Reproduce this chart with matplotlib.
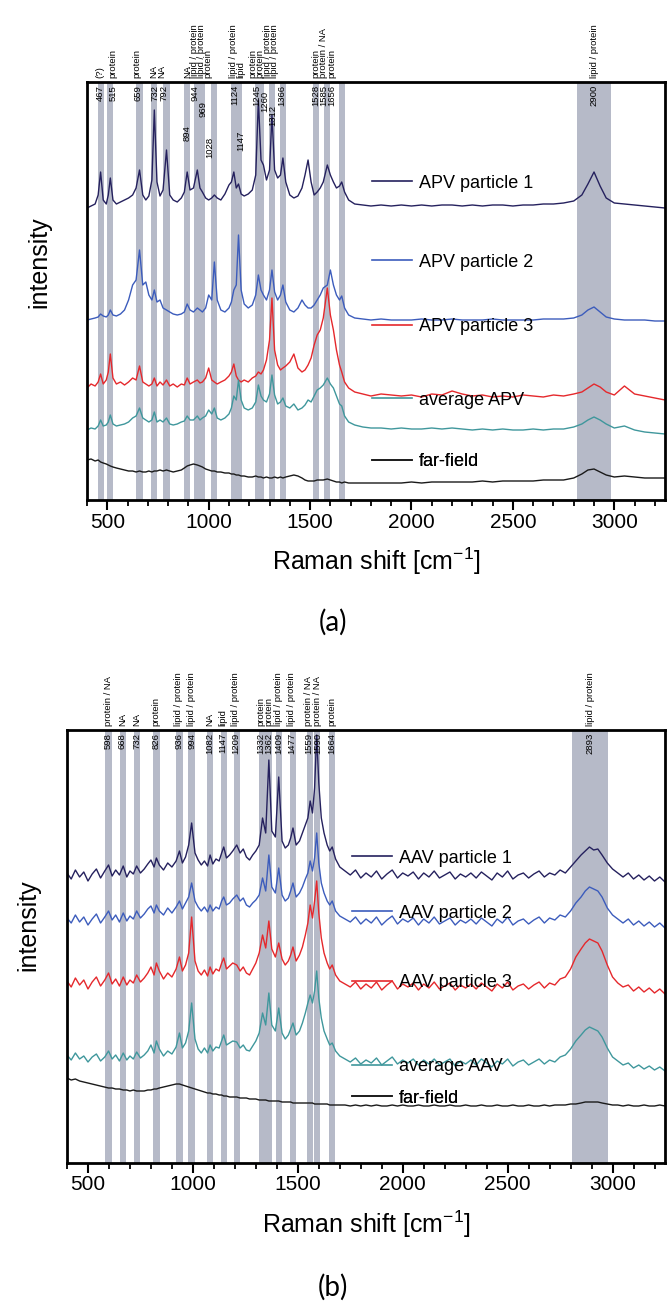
import numpy as np
import matplotlib.pyplot as plt
from matplotlib.ticker import MultipleLocator
from matplotlib.lines import Line2D

plt.rcParams['font.family'] = ['Liberation Sans', 'DejaVu Sans']
plt.rcParams['mathtext.fontset'] = 'custom'
plt.rcParams['mathtext.rm'] = 'Liberation Sans'

# ---------------- panel (a): APV ----------------
shift_a = [
    400, 420, 440, 455, 467, 480, 495, 505, 515, 528,
    545, 565, 585, 605, 625, 642, 659, 675, 690, 705,
    720, 732, 745, 760, 775, 792, 808, 825, 845, 865,
    880, 894, 908, 925, 944, 957, 969, 985, 1000, 1015,
    1028, 1042, 1060, 1080, 1100, 1112, 1124, 1136, 1147, 1160,
    1175, 1195, 1215, 1232, 1245, 1258, 1270, 1285, 1300, 1312,
    1325, 1340, 1354, 1366, 1380, 1400, 1420, 1440, 1460, 1475,
    1490, 1505, 1520, 1535, 1550, 1565, 1585, 1600, 1615, 1630,
    1645, 1656, 1670, 1690, 1720, 1760, 1800, 1850, 1900, 1950,
    2000, 2050, 2100, 2150, 2200, 2250, 2300, 2350, 2400, 2450,
    2500, 2550, 2600, 2650, 2700, 2750, 2800, 2840, 2870, 2900,
    2930, 2960, 3000, 3050, 3100, 3150, 3200, 3250]

apv1 = [
    292, 294, 296, 305, 328, 300, 296, 305, 322, 300,
    296, 298, 300, 302, 305, 312, 330, 305, 300, 304,
    320, 390, 318, 304, 310, 350, 305, 300, 298, 302,
    308, 328, 310, 312, 330, 312, 308, 302, 300, 302,
    305, 302, 300, 306, 315, 318, 328, 312, 316, 306,
    304, 306, 310, 325, 400, 340, 335, 320, 330, 385,
    330, 322, 325, 342, 318, 305, 302, 304, 312, 325,
    340, 318, 305, 308, 312, 318, 335, 325, 318, 312,
    314, 318, 308, 300, 296, 295, 294, 295, 294, 295,
    294, 295, 294, 295, 295, 294, 295, 294, 295, 295,
    294, 295, 295, 296, 296, 297, 299, 305, 316, 328,
    314, 302, 297, 296, 295, 294, 293, 292]

apv2 = [
    180, 181, 182, 183, 186, 184, 183, 185, 190, 185,
    184, 186, 190, 200, 215, 220, 250, 215, 218, 205,
    200, 210, 198, 200, 192, 190, 188, 186, 185, 186,
    188, 196, 190, 188, 192, 190, 188, 192, 205, 200,
    238, 200, 190, 188, 192, 198, 210, 215, 265, 210,
    196, 192, 195, 205, 225, 210, 205, 200, 210, 230,
    208, 200, 205, 215, 198, 190, 188, 192, 200, 195,
    192, 192, 195, 200, 205, 212, 215, 230, 215, 205,
    200, 204, 192, 185, 182, 181, 180, 181, 180, 180,
    180, 181, 180, 180, 181, 180, 180, 180, 181, 180,
    180, 180, 180, 181, 181, 181, 182, 185, 190, 193,
    188, 183, 181, 180, 180, 180, 179, 179]

apv3 = [
    112, 116, 114, 118, 126, 116, 120, 128, 146, 122,
    116, 118, 115, 118, 122, 120, 134, 118, 116, 114,
    116, 122, 114, 118, 115, 120, 114, 116, 113, 116,
    115, 122, 116, 118, 120, 117, 118, 122, 132, 120,
    118, 116, 118, 120, 124, 128, 136, 124, 120, 118,
    120, 118, 122, 124, 128, 126, 130, 140, 160, 202,
    150, 135, 130, 132, 134, 138, 146, 132, 128, 130,
    135, 142, 155, 165, 170, 182, 212, 185, 170, 150,
    135, 128, 118, 112, 108, 106, 104, 106, 105, 104,
    105, 103, 106, 105, 109, 106, 104, 105, 103, 104,
    103, 105, 104, 103, 105, 104, 106, 108, 112, 116,
    113, 108, 105, 114, 106, 104, 102, 100]

apv_avg = [
    70, 72, 71, 74, 80, 74, 75, 78, 85, 76,
    74, 75, 76, 78, 82, 84, 92, 82, 80, 78,
    80, 88, 78, 80, 78, 82, 76, 75, 76, 78,
    79, 84, 80, 80, 84, 80, 82, 84, 90, 86,
    92, 82, 80, 82, 86, 92, 104, 100, 120, 100,
    92, 90, 92, 98, 115, 104, 100, 98, 106, 125,
    105, 96, 98, 102, 94, 92, 96, 90, 92, 95,
    100, 98, 104, 110, 112, 115, 122, 116, 112, 104,
    96, 94, 84, 78, 75, 73, 72, 72, 71, 72,
    71, 71, 72, 71, 72, 71, 70, 71, 70, 71,
    70, 70, 71, 70, 71, 71, 73, 76, 80, 83,
    80, 76, 72, 74, 70, 68, 67, 66]

apv_far = [
    40, 41, 39, 40, 38, 37, 36, 35, 34, 33,
    32, 31, 30, 29, 29, 28, 29, 28, 28, 29,
    28, 29, 29, 30, 29, 30, 29, 28, 29, 30,
    32, 34, 35, 36, 35, 34, 33, 31, 30, 29,
    29, 28, 28, 27, 27, 26, 26, 25, 25, 24,
    24, 23, 23, 24, 23, 23, 22, 23, 22, 22,
    23, 22, 23, 22, 23, 24, 25, 24, 22, 20,
    19, 19, 19, 20, 20, 20, 21, 20, 19, 18,
    18, 17, 18, 17, 17, 17, 17, 17, 17, 17,
    18, 17, 18, 18, 18, 18, 18, 19, 18, 19,
    19, 19, 19, 20, 20, 20, 22, 26, 30, 31,
    28, 25, 23, 24, 23, 22, 22, 22]

names_a = ['APV particle 1', 'APV particle 2', 'APV particle 3', 'average APV', 'far-field']

bands_a = [467, 515, 659, 732, 792, 894, 944, 969, 1028, 1124, 1147,
           1245, 1260, 1312, 1366, 1528, 1585, 1656, 2900]
assign_a = ['(?)', 'protein', 'protein', 'NA', 'NA', 'NA', 'lipid / protein',
            'lipid / protein', 'protein', 'lipid / protein', 'lipid', 'protein',
            'protein', 'lipid / protein', 'lipid / protein', 'protein',
            'protein / NA', 'protein', 'lipid / protein']

# ---------------- panel (b): AAV ----------------
shift_b = [
    400, 420, 440, 460, 480, 500, 520, 540, 560, 580,
    598, 615, 632, 650, 668, 685, 700, 716, 732, 750,
    768, 785, 800, 815, 826, 840, 860, 880, 900, 920,
    936, 950, 965, 980, 994, 1010, 1025, 1040, 1055, 1070,
    1082, 1095, 1110, 1125, 1137, 1147, 1160, 1175, 1190, 1209,
    1225, 1240, 1255, 1270, 1285, 1300, 1316, 1332, 1347, 1362,
    1376, 1393, 1409, 1425, 1440, 1455, 1466, 1477, 1492, 1508,
    1522, 1536, 1548, 1559, 1570, 1580, 1590, 1600, 1612, 1625,
    1640, 1652, 1664, 1680, 1700, 1725, 1750, 1775, 1800, 1825,
    1850, 1875, 1900, 1925, 1950, 1975, 2000, 2025, 2050, 2075,
    2100, 2125, 2150, 2175, 2200, 2225, 2250, 2275, 2300, 2325,
    2350, 2375, 2400, 2425, 2450, 2475, 2500, 2525, 2550, 2575,
    2600, 2625, 2650, 2675, 2700, 2725, 2750, 2775, 2800, 2825,
    2850, 2870, 2890, 2910, 2930, 2950, 2975, 3000, 3025, 3050,
    3075, 3100, 3125, 3150, 3175, 3200, 3225, 3250]

aav1 = [
    290, 284, 293, 286, 291, 282, 289, 294, 285, 292,
    298, 287, 293, 288, 297, 286, 292, 289, 297, 290,
    294, 299, 303, 296, 305, 298, 293, 300, 296, 302,
    312, 300, 306, 318, 340, 310, 303, 298, 302, 297,
    308, 299, 304, 302, 310, 316, 305, 308, 312, 318,
    310, 314, 306, 303, 308, 312, 318, 345, 330, 403,
    332, 326, 386, 322, 315, 318, 325, 335, 318, 322,
    330, 338, 345, 362, 350, 375, 428, 380, 345, 330,
    318, 312, 316, 304, 296, 292, 288, 293, 285, 290,
    286, 292, 284, 289, 293, 285, 290, 287, 291, 284,
    290, 286, 292, 285, 288, 291, 284, 289, 286, 290,
    285, 291, 287, 283, 290, 286, 292, 284, 288, 290,
    285, 289, 292, 286, 290, 288, 293, 290, 296, 302,
    308, 312, 316, 313, 314, 308, 300, 294, 290, 286,
    290, 284, 288, 283, 287, 282, 286, 281]

aav2 = [
    245, 240, 248, 241, 246, 238, 244, 249, 240, 246,
    252, 243, 248, 241, 250, 242, 247, 244, 252, 245,
    249, 254, 257, 250, 258, 252, 248, 255, 250, 256,
    262, 254, 260, 266, 280, 262, 256, 252, 256, 251,
    258, 252, 256, 254, 262, 266, 258, 260, 264, 268,
    262, 265, 258, 256, 260, 263, 268, 285, 272, 308,
    276, 270, 295, 268, 262, 265, 272, 280, 266, 270,
    276, 284, 290, 302, 292, 305, 330, 300, 280, 270,
    262, 258, 262, 252, 247, 244, 241, 246, 239, 244,
    240, 246, 238, 243, 247, 239, 244, 241, 245, 238,
    244, 240, 246, 239, 242, 245, 238, 243, 240, 244,
    239, 245, 241, 237, 244, 240, 246, 238, 242, 244,
    239, 243, 246, 240, 245, 243, 248, 246, 252, 260,
    266, 272, 276, 274, 272, 266, 255, 248, 244, 240,
    244, 238, 242, 237, 241, 236, 240, 235]

aav3 = [
    182, 176, 185, 178, 183, 174, 181, 186, 177, 183,
    190, 179, 184, 177, 186, 178, 183, 180, 188, 181,
    185, 190, 196, 188, 200, 192, 184, 190, 186, 194,
    206, 192, 198, 210, 246, 202, 192, 188, 193, 187,
    196, 189, 194, 192, 200, 205, 194, 197, 200, 198,
    192, 196, 190, 188, 194, 200, 210, 228, 215, 242,
    214, 206, 220, 204, 198, 202, 208, 216, 202, 208,
    216, 228, 240, 258, 245, 262, 282, 250, 225, 210,
    200, 194, 198, 188, 182, 179, 176, 181, 174, 179,
    175, 181, 173, 178, 182, 174, 179, 176, 180, 173,
    179, 175, 181, 174, 177, 180, 173, 178, 175, 179,
    174, 180, 176, 172, 179, 175, 181, 173, 177, 179,
    174, 178, 181, 175, 180, 178, 184, 186, 194, 206,
    214, 220, 224, 222, 220, 212, 198, 186, 180, 176,
    178, 172, 176, 171, 175, 170, 174, 169]

aav_avg = [
    108, 103, 110, 104, 107, 101, 106, 109, 102, 106,
    112, 104, 108, 102, 110, 103, 107, 104, 111, 105,
    108, 112, 118, 110, 122, 114, 107, 112, 109, 116,
    130, 115, 120, 132, 160, 124, 114, 110, 115, 110,
    118, 112, 116, 115, 122, 128, 118, 120, 122, 121,
    115, 118, 113, 112, 117, 122, 130, 150, 138, 170,
    138, 132, 155, 130, 124, 128, 134, 140, 128, 132,
    140, 150, 160, 168, 160, 172, 192, 165, 145, 132,
    124, 118, 120, 112, 107, 104, 101, 105, 99, 103,
    100, 105, 98, 102, 106, 99, 103, 100, 104, 98,
    103, 99, 104, 98, 101, 104, 97, 102, 99, 103,
    98, 104, 100, 96, 102, 99, 104, 97, 101, 103,
    98, 101, 104, 99, 103, 101, 106, 108, 114, 122,
    128, 133, 136, 134, 132, 126, 115, 106, 102, 98,
    100, 95, 98, 94, 97, 93, 96, 92]

aav_far = [
    85, 83, 84, 82, 81, 80, 79, 78, 77, 76,
    75, 75, 74, 74, 73, 73, 72, 73, 72, 72,
    72, 73, 73, 74, 74, 75, 76, 77, 78, 79,
    79, 78, 77, 76, 75, 74, 73, 72, 71, 70,
    70, 69, 69, 68, 68, 67, 67, 66, 66, 66,
    65, 65, 65, 64, 64, 64, 63, 63, 63, 62,
    62, 62, 62, 61, 61, 61, 61, 60, 60, 60,
    60, 60, 60, 60, 60, 59, 59, 59, 59, 59,
    59, 58, 58, 58, 58, 58, 57, 58, 57, 58,
    57, 58, 57, 57, 58, 57, 58, 57, 57, 58,
    57, 57, 58, 57, 57, 58, 57, 57, 58, 57,
    57, 58, 57, 57, 58, 57, 57, 58, 57, 57,
    58, 57, 57, 58, 57, 58, 58, 58, 59, 59,
    60, 61, 61, 61, 61, 60, 59, 58, 58, 57,
    58, 57, 57, 58, 57, 57, 58, 57]

names_b = ['AAV particle 1', 'AAV particle 2', 'AAV particle 3', 'average AAV', 'far-field']

bands_b = [598, 668, 732, 826, 936, 994, 1082, 1147, 1209, 1332, 1362,
           1409, 1477, 1559, 1590, 1664, 2893]
assign_b = ['protein / NA', 'NA', 'NA', 'protein', 'lipid / protein',
            'lipid / protein', 'NA', 'lipid', 'lipid / protein', 'protein',
            'protein', 'lipid / protein', 'lipid / protein', 'protein / NA',
            'protein / NA', 'protein', 'lipid / protein']

colors = ['#25215e', '#3c5cbc', '#e5282c', '#3f979c', '#1a1a1a']
band_color = '#b6bac8'

W, H = 667, 1309
fig = plt.figure(figsize=(W / 100, H / 100), dpi=100)


def draw_panel(box, x, series, names, bands, assign, ymax, legend_xy,
               num_x, name_x, num_drop, ylab_xy):
    l, t, r, b = box
    ax = fig.add_axes([l / W, 1 - b / H, (r - l) / W, (b - t) / H])
    hpx = b - t
    for c in bands:
        w = 170 if c > 2800 else 30
        ax.axvspan(c - w / 2, c + w / 2, color=band_color, lw=0, zorder=0)
    for ys, col in zip(series, colors):
        ax.plot(x, ys, color=col, lw=1.0, zorder=2)
    ax.set_xlim(400, 3250)
    ax.set_ylim(0, ymax)
    ax.set_yticks([])
    ax.xaxis.set_major_locator(MultipleLocator(500))
    ax.xaxis.set_minor_locator(MultipleLocator(100))
    ax.tick_params(axis='x', which='major', length=7, width=1.5, labelsize=15, pad=2)
    ax.tick_params(axis='x', which='minor', length=4, width=1.3)
    for s in ax.spines.values():
        s.set_linewidth(2)
    ax.set_xlabel('Raman shift [cm$^{\\mathregular{-1}}$]', fontsize=18, labelpad=10)
    ax.set_ylabel('intensity', fontsize=18)
    ax.yaxis.set_label_coords(*ylab_xy)

    tr = ax.get_xaxis_transform()
    for c, lab, nx, mx in zip(bands, assign, num_x, name_x):
        drop = num_drop.get(c, 0)
        ax.text(nx, 1 - (3 + drop) / hpx, str(c), transform=tr, rotation=90,
                ha='center', va='top', fontsize=6.8, zorder=3)
        ax.text(mx, 1 + 4 / hpx, lab, transform=tr, rotation=90,
                ha='center', va='bottom', fontsize=6.8, clip_on=False)

    for name, col, (lx, ly) in zip(names, colors, legend_xy):
        h = Line2D([], [], color=col, lw=1.2)
        leg = ax.legend([h], [name], loc='center left', bbox_to_anchor=(lx, ly),
                        frameon=False, fontsize=13, handlelength=2.2,
                        handletextpad=0.4, borderpad=0, borderaxespad=0)
        ax.add_artist(leg)
    return ax


# label columns of panel (a), spread where the bands crowd
num_x_a = [464, 530, 652, 735, 778, 893, 934, 970, 1005, 1129, 1160,
           1236, 1275, 1318, 1358, 1530, 1568, 1606, 2900]
name_x_a = [464, 528, 648, 730, 770, 896, 930, 964, 998, 1124, 1160,
            1216, 1252, 1288, 1324, 1530, 1568, 1606, 2900]
drop_a = {894: 40, 969: 16, 1028: 52, 1147: 46, 1260: 6, 1312: 20}

# label columns of panel (b)
lab_x_b = [598, 664, 732, 826, 932, 994, 1082, 1142, 1205, 1322, 1362,
           1409, 1472, 1550, 1594, 1664, 2893]

draw_panel((87, 82, 665, 500), shift_a, [apv1, apv2, apv3, apv_avg, apv_far],
           names_a, bands_a, assign_a, 418,
           [(0.493, 0.758), (0.493, 0.569), (0.493, 0.414), (0.493, 0.239), (0.493, 0.091)],
           num_x_a, name_x_a, drop_a, (-0.061, 0.57))

draw_panel((67, 730, 665, 1163), shift_b, [aav1, aav2, aav3, aav_avg, aav_far],
           names_b, bands_b, assign_b, 433,
           [(0.477, 0.704), (0.477, 0.577), (0.477, 0.416), (0.477, 0.222), (0.477, 0.150)],
           lab_x_b, lab_x_b, {}, (-0.045, 0.55))

fig.text(333 / W, 1 - 622 / H, '(a)', ha='center', va='center', fontsize=20, family='Lato')
fig.text(333 / W, 1 - 1287 / H, '(b)', ha='center', va='center', fontsize=20, family='Lato')

fig.savefig('out.png', dpi=100)
